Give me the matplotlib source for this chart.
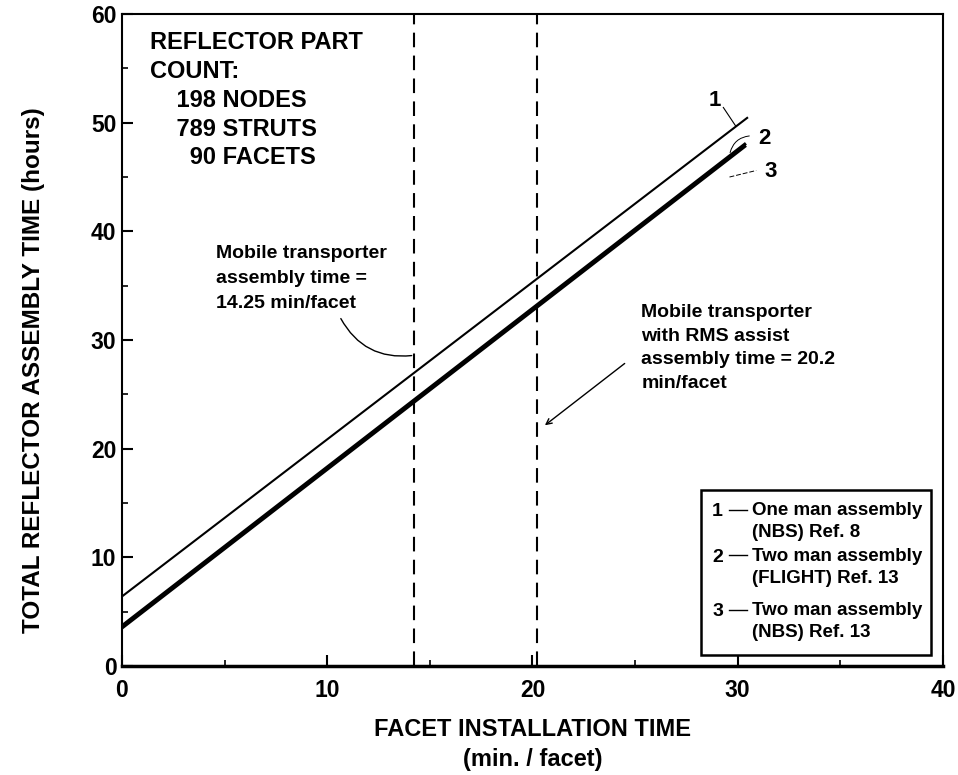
import matplotlib
matplotlib.use("Agg")
import matplotlib.pyplot as plt
from matplotlib.patches import Rectangle

plt.rcParams['font.family'] = ['Liberation Sans', 'DejaVu Sans']
plt.rcParams['font.weight'] = 'bold'

# Data
line1_x = [0, 30.5]
line1_y = [6.4, 50.5]
line2_x = [0, 30.4]
line2_y = [3.7, 48.1]
line3_x = [0, 30.4]
line3_y = [3.5, 47.9]
vlines_x = [14.25, 20.2]
x_ticks = [0, 10, 20, 30, 40]
y_ticks = [0, 10, 20, 30, 40, 50, 60]
legend_nums = ["1", "2", "3"]
legend_texts = ["One man assembly\n(NBS) Ref. 8",
                "Two man assembly\n(FLIGHT) Ref. 13",
                "Two man assembly\n(NBS) Ref. 13"]

fig = plt.figure(figsize=(9.58, 7.75), dpi=100)
ax = fig.add_axes([0.1273, 0.1406, 0.857, 0.8413])

ax.plot(line1_x, line1_y, color='black', lw=1.5, solid_capstyle='butt')
ax.plot(line2_x, line2_y, color='black', lw=2.3, solid_capstyle='butt')
ax.plot(line3_x, line3_y, color='black', lw=2.3, solid_capstyle='butt')
for xv in vlines_x:
    ax.axvline(xv, color='black', lw=1.5, ls=(0, (7, 4)))

ax.set_xlim(0, 40)
ax.set_ylim(0, 60)
ax.set_xticks(x_ticks)
ax.set_yticks(y_ticks)
ax.set_xticks([5, 15, 25, 35], minor=True)
ax.set_yticks([5, 15, 25, 35, 45, 55], minor=True)
ax.tick_params(which='major', direction='in', length=8, width=1.5, labelsize=16.5)
ax.tick_params(axis='x', which='major', pad=9)
ax.tick_params(axis='y', which='major', pad=4)
ax.tick_params(which='minor', direction='in', length=4, width=1.2)
for lbl in ax.get_xticklabels() + ax.get_yticklabels():
    lbl.set_fontweight('bold')
for sp in ax.spines.values():
    sp.set_linewidth(1.5)
ax.spines['bottom'].set_linewidth(2.5)

ax.set_ylabel("TOTAL REFLECTOR ASSEMBLY TIME (hours)", fontsize=17.5, fontweight='bold')
ax.yaxis.set_label_coords(-0.094, 0.454)
ax.set_xlabel("FACET INSTALLATION TIME\n(min. / facet)", fontsize=17, fontweight='bold',
              labelpad=12, linespacing=1.35)

# Part count text
ax.text(1.35, 58.4, "REFLECTOR PART\nCOUNT:\n    198 NODES\n    789 STRUTS\n      90 FACETS",
        fontsize=17, fontweight='bold', va='top', ha='left', linespacing=1.32)

# Annotation 1
ax.text(4.6, 38.7, "Mobile transporter\nassembly time =\n14.25 min/facet",
        fontsize=14, fontweight='bold', va='top', ha='left', linespacing=1.6)
ax.annotate("", xy=(14.25, 28.6), xytext=(10.6, 32.2),
            arrowprops=dict(arrowstyle='-', color='black', lw=1.0,
                            connectionstyle='arc3,rad=0.35'))

# Annotation 2
ax.text(25.3, 33.3, "Mobile transporter\nwith RMS assist\nassembly time = 20.2\nmin/facet",
        fontsize=14, fontweight='bold', va='top', ha='left', linespacing=1.5)
ax.annotate("", xy=(20.5, 22.0), xytext=(24.6, 28.0),
            arrowprops=dict(arrowstyle='->', color='black', lw=1.0))

# Line number labels
ax.text(28.9, 52.0, "1", fontsize=16, fontweight='bold', ha='center', va='center')
ax.plot([29.3, 29.9], [51.4, 49.7], color='black', lw=0.8)
ax.text(31.3, 48.5, "2", fontsize=16, fontweight='bold', ha='center', va='center')
ax.annotate("", xy=(29.6, 47.0), xytext=(30.7, 48.8),
            arrowprops=dict(arrowstyle='-', color='black', lw=0.7, connectionstyle='arc3,rad=0.4'))
ax.text(31.6, 45.5, "3", fontsize=16, fontweight='bold', ha='center', va='center')
ax.plot([29.6, 30.9], [45.0, 45.6], color='black', lw=0.7, ls=(0, (5, 2)))

# Legend box
ax.add_patch(Rectangle((28.2, 1.0), 11.2, 15.2, fill=False, edgecolor='black', lw=1.8, zorder=5))
ys = [14.2, 10.0, 5.0]
for num, txt, yv in zip(legend_nums, legend_texts, ys):
    ax.text(28.75, yv, num, fontsize=14, fontweight='bold', va='center', ha='left')
    ax.plot([29.6, 30.45], [yv + 0.2, yv + 0.2], color='black', lw=1.0)
    ax.text(30.7, yv + 0.9, txt, fontsize=13.5, fontweight='bold', va='top', ha='left', linespacing=1.4)

fig.savefig("out.png", dpi=100)
